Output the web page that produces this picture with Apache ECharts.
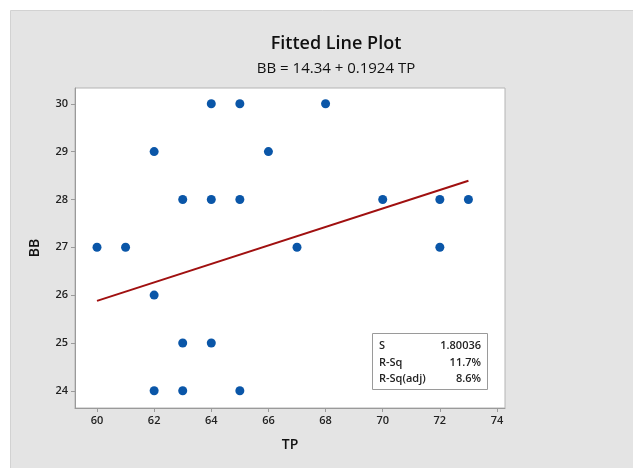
<!DOCTYPE html>
<html>
<head>
<meta charset="utf-8">
<script src="https://cdn.jsdelivr.net/npm/echarts@6/dist/echarts.min.js"></script>
<style>
  html, body { margin: 0; padding: 0; background: #ffffff; }
  #chart { width: 633px; height: 468px; }
</style>
</head>
<body>
<div id="chart"></div>
<script>
// Observations: TP (x) and BB (y)
const tpValues = [60, 61, 62, 62, 62, 63, 63, 63, 64, 64, 64, 65, 65, 65, 66, 67, 68, 70, 72, 72, 73];
const bbValues = [27, 27, 29, 26, 24, 28, 25, 24, 30, 28, 25, 30, 28, 24, 29, 27, 30, 28, 28, 27, 28];

// Fitted regression line endpoints: BB = 14.34 + 0.1924 TP
const fitTP = [60, 73];
const fitBB = [25.88, 28.39];

// Axis tick labels
const xTicks = [60, 62, 64, 66, 68, 70, 72, 74];
const yTicks = [24, 25, 26, 27, 28, 29, 30];

// Model summary
const statNames = ['S', 'R-Sq', 'R-Sq(adj)'];
const statValues = ['1.80036', '11.7%', '8.6%'];

const FONT = '"Open Sans", "Noto Sans", sans-serif';
const points = tpValues.map((x, i) => [x, bbValues[i]]);
const fitLine = fitTP.map((x, i) => [x, fitBB[i]]);

const chart = echarts.init(document.getElementById('chart'));

// Summary box: frame plus one row per statistic
const statBox = [{
  type: 'rect', z: 100, silent: true,
  shape: { x: 372.5, y: 333.5, width: 115, height: 56 },
  style: { fill: '#ffffff', stroke: '#9a9a9a', lineWidth: 1 }
}];
statNames.forEach((n, i) => {
  const y = 346 + i * 16.5;
  statBox.push({
    type: 'text', z: 101, silent: true,
    style: { x: 379, y: y, text: n, font: '600 11px ' + FONT, fill: '#222',
             textAlign: 'left', textVerticalAlign: 'middle' }
  });
  statBox.push({
    type: 'text', z: 101, silent: true,
    style: { x: 481, y: y, text: statValues[i], font: '600 11px ' + FONT, fill: '#222',
             textAlign: 'right', textVerticalAlign: 'middle' }
  });
});

chart.setOption({
  backgroundColor: '#ffffff',
  animation: false,
  title: [
    {
      text: 'Fitted Line Plot', left: 331, top: 30, textAlign: 'center',
      textStyle: { fontFamily: FONT, fontSize: 18, fontWeight: 600, color: '#111' }
    },
    {
      text: 'BB = 14.34 + 0.1924 TP', left: 331, top: 56, textAlign: 'center',
      textStyle: { fontFamily: FONT, fontSize: 15, fontWeight: 'normal', color: '#111' }
    }
  ],
  graphic: [
    {
      type: 'rect', z: -10, silent: true,
      shape: { x: 10.5, y: 10.5, width: 640, height: 470 },
      style: { fill: '#e4e4e4', stroke: '#d2d2d2', lineWidth: 1 }
    }
  ].concat(statBox),
  grid: {
    left: 75, top: 88, width: 430, height: 320,
    show: true, backgroundColor: '#ffffff', borderColor: '#b4b4b4', borderWidth: 1
  },
  xAxis: {
    type: 'value', min: 59.23, max: 74.28,
    name: 'TP', nameLocation: 'middle', nameGap: 30,
    nameTextStyle: { fontFamily: FONT, fontSize: 14, fontWeight: 600, color: '#111' },
    axisLine: { show: true, lineStyle: { color: '#9a9a9a' } },
    axisTick: { show: true, length: 4, customValues: xTicks, lineStyle: { color: '#9a9a9a' } },
    axisLabel: { customValues: xTicks, fontFamily: FONT, fontSize: 11, fontWeight: 600, color: '#222', margin: 7 },
    splitLine: { show: false }
  },
  yAxis: {
    type: 'value', min: 23.64, max: 30.33,
    name: 'BB', nameLocation: 'middle', nameGap: 33,
    nameTextStyle: { fontFamily: FONT, fontSize: 14, fontWeight: 600, color: '#111' },
    axisLine: { show: true, lineStyle: { color: '#9a9a9a' } },
    axisTick: { show: true, length: 4, customValues: yTicks, lineStyle: { color: '#9a9a9a' } },
    axisLabel: { customValues: yTicks, fontFamily: FONT, fontSize: 11, fontWeight: 600, color: '#222', margin: 7 },
    splitLine: { show: false }
  },
  series: [
    {
      type: 'line', data: fitLine, symbol: 'none', z: 2,
      lineStyle: { color: '#a01010', width: 2 }
    },
    {
      type: 'scatter', data: points, symbol: 'circle', symbolSize: 9, z: 3,
      itemStyle: { color: '#0a56a8', opacity: 1 }
    }
  ]
});
</script>
</body>
</html>
